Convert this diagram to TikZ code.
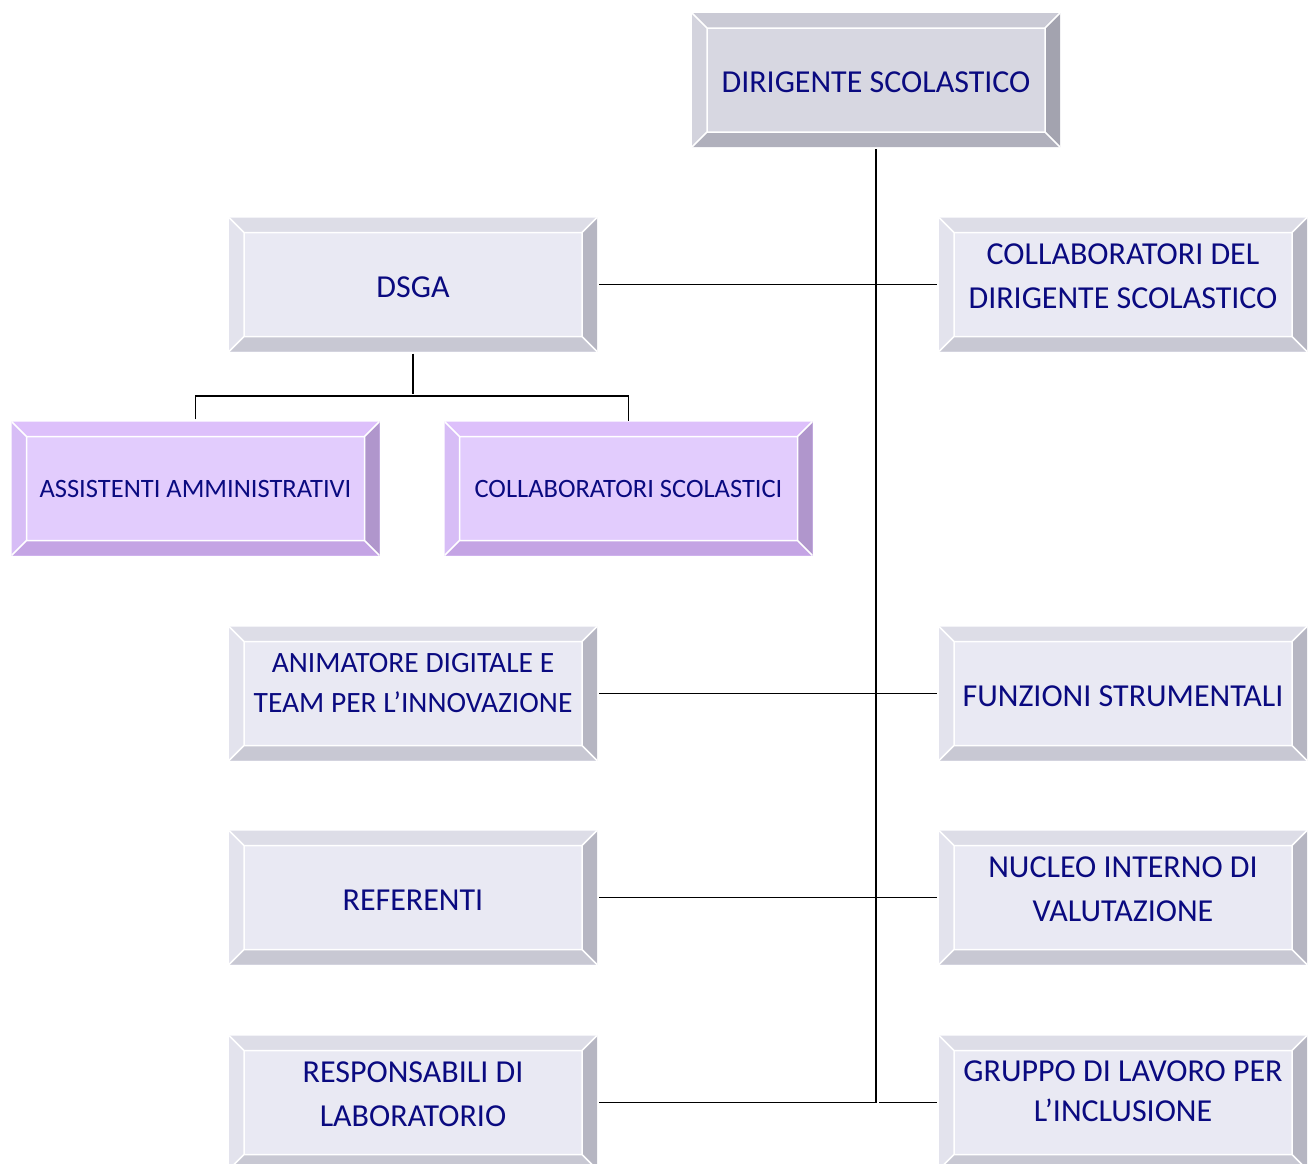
\documentclass[tikz,border=0pt]{standalone}
\usepackage{fontspec}
\setmainfont{Carlito}
\definecolor{txt}{RGB}{10,10,128}
\definecolor{gC}{RGB}{233,233,243}
\definecolor{gT}{RGB}{221,221,231}
\definecolor{gL}{RGB}{227,227,237}
\definecolor{gR}{RGB}{182,182,194}
\definecolor{gB}{RGB}{200,200,211}
\definecolor{dC}{RGB}{215,215,225}
\definecolor{dT}{RGB}{202,202,213}
\definecolor{dL}{RGB}{211,211,221}
\definecolor{dR}{RGB}{163,163,175}
\definecolor{dB}{RGB}{176,176,188}
\definecolor{pC}{RGB}{226,204,253}
\definecolor{pT}{RGB}{221,192,251}
\definecolor{pL}{RGB}{215,189,246}
\definecolor{pR}{RGB}{176,150,204}
\definecolor{pB}{RGB}{196,164,228}
\newcommand\bevelpic[4]{%
 \path (path picture bounding box.north west) coordinate (bvA)
       (path picture bounding box.north east) coordinate (bvB)
       (path picture bounding box.south east) coordinate (bvC)
       (path picture bounding box.south west) coordinate (bvD);
 \path ([xshift=15pt,yshift=-15pt]bvA) coordinate (bvE)
       ([xshift=-15pt,yshift=-15pt]bvB) coordinate (bvF)
       ([xshift=-15pt,yshift=15pt]bvC) coordinate (bvG)
       ([xshift=15pt,yshift=15pt]bvD) coordinate (bvH);
 \fill[#1] (bvA)--(bvB)--(bvF)--(bvE)--cycle;
 \fill[#2] (bvA)--(bvE)--(bvH)--(bvD)--cycle;
 \fill[#3] (bvB)--(bvC)--(bvG)--(bvF)--cycle;
 \fill[#4] (bvD)--(bvH)--(bvG)--(bvC)--cycle;
 \draw[white,line width=1.5pt] (bvE) rectangle (bvG) (bvA)--(bvE) (bvB)--(bvF) (bvC)--(bvG) (bvD)--(bvH);
}
\tikzset{
 bx/.style={minimum width=368pt, minimum height=134pt, inner sep=0pt, align=center, text=txt, font=\fontsize{32}{44}\selectfont},
 graybox/.style={bx, fill=gC, path picture={\bevelpic{gT}{gL}{gR}{gB}}},
 topbox/.style={bx, fill=dC, path picture={\bevelpic{dT}{dL}{dR}{dB}}},
 purplebox/.style={bx, fill=pC, font=\fontsize{26.5}{34}\selectfont, path picture={\bevelpic{pT}{pL}{pR}{pB}}},
 oneline/.style={text height=26pt},
 twoline/.style={text depth=16pt},
 twotight/.style={font=\fontsize{32}{40}\selectfont, text depth=22pt},
 twosmall/.style={font=\fontsize{29.5}{40}\selectfont, text depth=22pt},
 conn/.style={draw=black, line width=1.8pt, shorten <=2pt, shorten >=2pt}
}
\begin{document}
\begin{tikzpicture}[x=1pt,y=-1pt]
\useasboundingbox (0,0) rectangle (1309,1163);
\node[topbox, oneline] (DS) at (876,80) {DIRIGENTE SCOLASTICO};
\node[graybox, oneline] (DSGA) at (413,284.5) {DSGA};
\node[graybox, twoline] (CDS) at (1123,284.5) {COLLABORATORI DEL\\DIRIGENTE SCOLASTICO};
\node[purplebox] (ASS) at (195.5,488.5) {ASSISTENTI AMMINISTRATIVI};
\node[purplebox] (CS) at (628.5,488.5) {COLLABORATORI SCOLASTICI};
\node[graybox, twosmall] (ANI) at (413,693.5) {ANIMATORE DIGITALE E\\TEAM PER L’INNOVAZIONE};
\node[graybox, oneline] (FUN) at (1123,693.5) {FUNZIONI STRUMENTALI};
\node[graybox, oneline] (REF) at (413,897.5) {REFERENTI};
\node[graybox, twoline] (NUC) at (1123,897.5) {NUCLEO INTERNO DI\\VALUTAZIONE};
\node[graybox, twoline] (RES) at (413,1102.5) {RESPONSABILI DI\\LABORATORIO};
\node[graybox, twotight] (GRU) at (1123,1102.5) {GRUPPO DI LAVORO PER\\L’INCLUSIONE};
\draw[conn] (DS.south) |- (RES.east);
\draw[conn] (DSGA.east) -- (CDS.west);
\draw[conn] (ANI.east) -- (FUN.west);
\draw[conn] (REF.east) -- (NUC.west);
\draw[conn] (GRU.west) -- ++(-62,0);
\coordinate (split) at ([yshift=-44.5pt]DSGA.south);
\draw[conn] (DSGA.south) -- (split);
\draw[line width=1.8pt, shorten <=2pt] (ASS.north) |- (split) -| (CS.north);
\end{tikzpicture}
\end{document}
